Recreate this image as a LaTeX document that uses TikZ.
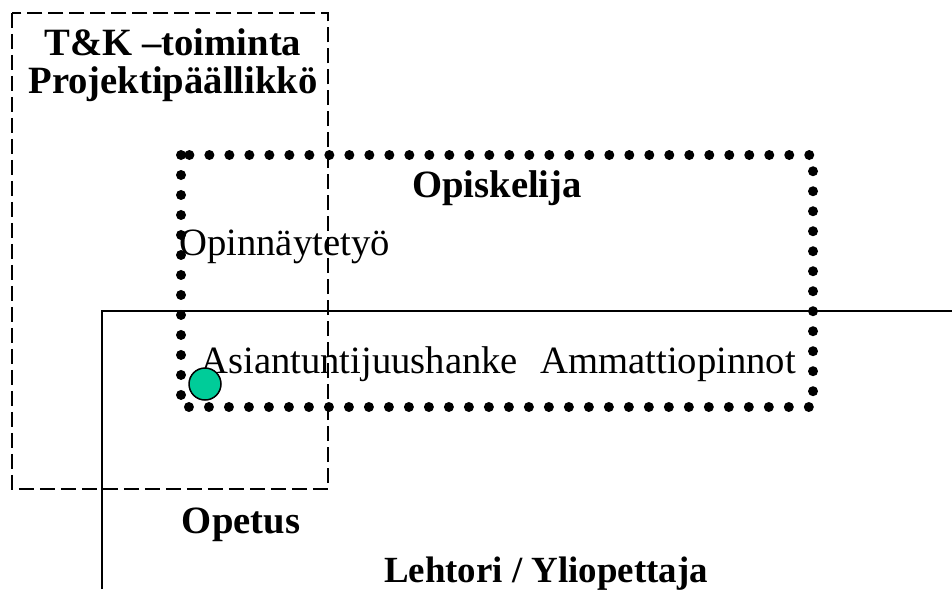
\documentclass[tikz,border=0pt]{standalone}
\usepackage{fontspec}
\setmainfont{Liberation Serif}
\usetikzlibrary{calc}
\definecolor{pallo}{RGB}{0,204,153}

\begin{document}
\begin{tikzpicture}[x=0.02cm,y=-0.02cm,every node/.style={inner sep=0pt,font=\fontsize{22}{26}\selectfont},
  otsikko/.style={font=\fontsize{22}{26}\selectfont\bfseries}]
  \useasboundingbox (0,0) rectangle (952,589);
  % solid frame (Opetus)
  \draw[line width=0.04cm] (102,589) -- (102,311) -- (952,311);
  % dotted frame (Opiskelija)
  \draw[line width=0.2cm,line cap=round,dash pattern=on 0pt off 0.4cm] (181,155) rectangle (813,407);
  % texts
  \path (173,55) node[otsikko,anchor=base] (tk) {T\&K –toiminta}
  (173,93) node[otsikko,anchor=base] (pp) {Projektipäällikkö}
  (497,197) node[otsikko,anchor=base] (op) {Opiskelija}
  (179,255) node[anchor=base west] (ont) {Opinnäytetyö}
  (200,373) node[anchor=base west] (ah) {Asiantuntijuushanke}
  (540,373) node[anchor=base west] (am) {Ammattiopinnot}
  (241,533) node[otsikko,anchor=base] (ope) {Opetus}
  (546,582) node[otsikko,anchor=base,font=\fontsize{21}{25}\selectfont\bfseries] (ly) {Lehtori / Yliopettaja};
  % dashed frame (T&K)
  \draw[line width=0.04cm,dash pattern=on 0.3cm off 0.12cm] (12,13) rectangle (328,489);
  \node[draw,circle,fill=pallo,line width=0.03cm,minimum size=0.64cm] (pallo) at (205,384) {};
\end{tikzpicture}
\end{document}
